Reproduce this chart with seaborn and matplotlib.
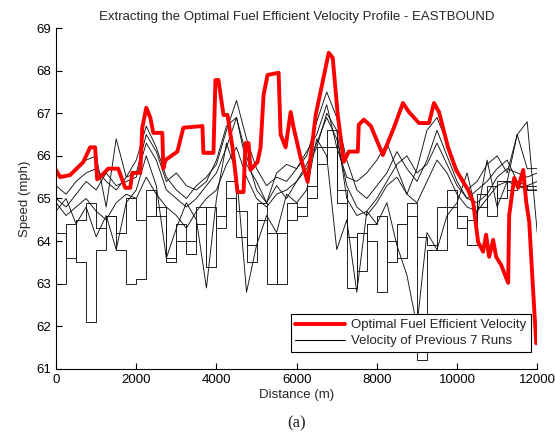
import numpy as np
import pandas as pd
import matplotlib
matplotlib.use("Agg")
import matplotlib.pyplot as plt
import seaborn as sns
from matplotlib.lines import Line2D

# Optimal profile
opt_distance = [0, 100, 350, 675, 850, 975, 1025, 1100, 1300, 1550, 1725, 1850, 1900, 2100,
                2150, 2250, 2350, 2425, 2650, 2675, 2725, 3025, 3175, 3650, 3675, 3925, 3975,
                4050, 4175, 4275, 4400, 4525, 4675, 4725, 4800, 4850, 5025, 5100, 5175, 5275,
                5550, 5600, 5725, 5850, 5925, 6100, 6275, 6475, 6800, 6900, 7025, 7175, 7300,
                7525, 7550, 7675, 7850, 8150, 8425, 8650, 8800, 9050, 9300, 9425, 9550, 9775,
                9975, 10275, 10400, 10525, 10650, 10725, 10800, 10900, 10975, 11100, 11275,
                11300, 11425, 11525, 11650, 11725, 11800, 11900, 11975]
opt_speed = [65.67, 65.5, 65.55, 65.85, 66.2, 66.2, 65.45, 65.5, 65.7, 65.7, 65.25, 65.25, 65.6, 65.6,
             66.66, 67.13, 66.9, 66.54, 66.54, 65.7, 65.9, 66.1, 66.66, 66.7, 66.07, 66.07, 67.78,
             67.78, 66.96, 66.96, 66.2, 65.15, 65.15, 66.3, 66.3, 65.67, 65.86, 66.2, 67.43, 67.9,
             67.95, 66.5, 66.2, 67.03, 66.66, 65.95, 65.39, 66.96, 68.42, 68.3, 66.96, 65.86, 66.1,
             66.1, 66.73, 66.85, 66.7, 66.02, 66.66, 67.24, 67.03, 66.77, 66.77, 67.24, 67.03, 66.2,
             65.67, 65.2, 64.92, 63.98, 63.75, 64.15, 63.63, 64.03, 63.63, 63.44, 63.02,
             64.6, 65.48, 65.25, 65.67, 64.92, 64.45, 62.8, 61.6]

# Previous runs, sampled every 250 m
run_distance = list(range(0, 12001, 250))
run1 = [65.3, 65.1, 65.4, 65.6, 65.7, 65.4, 65.2, 65.5,
        65.9, 66.7, 66.2, 65.5, 65.2, 65.0, 65.3, 65.5,
        65.8, 66.6, 67.3, 66.4, 65.7, 65.3, 65.5, 65.4,
        65.7, 66.0, 66.8, 67.5, 66.9, 65.9, 65.2, 65.0,
        65.3, 65.6, 66.1, 65.7, 65.4, 65.9, 66.6, 66.0,
        65.4, 65.0, 64.9, 65.1, 65.5, 65.7, 65.6, 65.5,
        65.6]
run2 = [63.0, 64.4, 63.5, 62.1, 63.8, 64.6, 64.2, 65.0,
        64.5, 65.2, 64.6, 63.6, 64.4, 64.0, 64.8, 63.4,
        64.6, 65.4, 64.7, 63.9, 64.9, 64.2, 63.0, 64.5,
        64.8, 65.3, 66.2, 66.6, 65.2, 62.9, 64.2, 64.0,
        62.8, 64.0, 63.6, 64.6, 61.2, 63.8, 64.8, 65.2,
        64.6, 63.9, 64.8, 65.3, 65.0, 65.4, 65.3, 65.2,
        65.3]
run3 = [65.6, 65.5, 65.7, 65.9, 66.0, 64.8, 66.4, 65.5,
        65.6, 66.5, 66.1, 65.4, 65.6, 65.3, 65.2, 65.4,
        65.9, 66.7, 66.9, 65.8, 65.4, 64.9, 65.6, 65.8,
        65.7, 66.1, 66.5, 67.2, 66.2, 65.5, 65.4, 65.6,
        65.9, 66.3, 65.7, 65.1, 65.7, 66.6, 66.9, 66.3,
        65.7, 65.2, 65.4, 65.8, 66.0, 65.6, 66.5, 65.7,
        65.7]
run4 = [64.7, 65.0, 64.4, 64.8, 64.1, 64.6, 63.8, 64.9,
        65.2, 66.0, 65.3, 63.6, 64.3, 64.9, 64.5, 62.9,
        65.0, 66.3, 65.6, 62.8, 63.9, 64.6, 64.2, 65.1,
        64.9, 65.2, 66.4, 66.0, 63.8, 64.5, 62.8, 64.7,
        64.4, 64.9, 63.9, 63.2, 62.0, 64.2, 63.8, 64.6,
        64.9, 65.6, 64.6, 65.9, 64.8, 65.4, 66.5, 66.8,
        64.2]
run5 = [64.9, 64.6, 64.8, 65.0, 64.7, 64.5, 64.9, 65.1,
        65.0, 65.5, 65.1, 64.8, 64.6, 64.3, 64.7, 65.0,
        65.2, 65.8, 66.2, 65.5, 65.0, 64.8, 65.1, 65.2,
        65.4, 65.8, 66.3, 66.9, 66.4, 65.3, 64.8, 64.6,
        64.9, 65.3, 65.5, 65.1, 64.9, 65.4, 65.9, 65.6,
        65.1, 64.8, 64.7, 65.0, 65.3, 65.4, 65.3, 65.2,
        65.2]
run6 = [64.2, 63.6, 64.5, 64.9, 64.3, 64.6, 63.8, 63.0,
        63.1, 64.6, 64.8, 63.5, 64.0, 63.7, 64.4, 64.8,
        64.3, 65.0, 64.1, 63.5, 64.5, 63.0, 64.2, 64.9,
        64.6, 65.0, 65.8, 66.2, 64.9, 64.1, 63.3, 64.4,
        64.6, 63.5, 64.4, 64.9, 64.1, 63.9, 63.8, 64.8,
        64.3, 64.5, 65.1, 64.6, 65.4, 65.2, 65.3, 65.3,
        65.3]
run7 = [65.0, 64.8, 65.1, 65.4, 65.2, 65.6, 65.3, 65.4,
        65.5, 66.3, 65.9, 65.2, 65.0, 64.8, 65.0, 65.3,
        65.6, 66.2, 66.9, 66.0, 65.2, 64.9, 65.3, 65.0,
        65.4, 65.7, 66.2, 67.0, 66.6, 65.0, 64.6, 64.7,
        65.0, 65.4, 65.8, 66.0, 65.6, 65.8, 66.3, 65.8,
        65.3, 65.0, 65.2, 65.4, 65.7, 65.9, 65.4, 65.3,
        65.4]
runs = [run1, run2, run3, run4, run5, run6, run7]
stepped = [False, True, False, False, False, True, False]

sns.set_style("ticks")
plt.rcParams['font.family'] = ['Liberation Sans', 'DejaVu Sans']

fig = plt.figure(figsize=(5.55, 4.45), dpi=100)
ax = fig.add_axes([0.101, 0.171, 0.867, 0.766])

for r, st in zip(runs, stepped):
    sns.lineplot(x=run_distance, y=r, ax=ax, color='#111111', lw=0.65,
                 drawstyle='steps-post' if st else 'default')

sns.lineplot(x=opt_distance, y=opt_speed, ax=ax, color='#ff0000', lw=2.8, sort=False)

ax.set_xlim(0, 12000)
ax.set_ylim(61, 69)
ax.set_xticks(range(0, 12001, 2000))
ax.set_yticks(range(61, 70))
ax.tick_params(direction='in', length=4, width=0.8, labelsize=9.5, colors='black')
for s in ['top', 'right']:
    ax.spines[s].set_visible(False)
for s in ['left', 'bottom']:
    ax.spines[s].set_color('black')
    ax.spines[s].set_linewidth(0.8)

ax.set_title("Extracting the Optimal Fuel Efficient Velocity Profile - EASTBOUND", fontsize=9.5, pad=6)
ax.set_xlabel("Distance (m)", fontsize=9.5, labelpad=2)
ax.set_ylabel("Speed (mph)", fontsize=9.5, labelpad=4)

handles = [Line2D([], [], color='#ff0000', lw=2.8), Line2D([], [], color='black', lw=0.8)]
leg = ax.legend(handles, ["Optimal Fuel Efficient Velocity", "Velocity of Previous 7 Runs"],
                loc='lower right', bbox_to_anchor=(1.0, 0.03), fontsize=9.5, fancybox=False,
                framealpha=1, edgecolor='black', handlelength=3.8, borderpad=0.35,
                labelspacing=0.3, handletextpad=0.4)
leg.get_frame().set_linewidth(0.8)

fig.text(0.535, 0.04, "(a)", family='Liberation Serif', fontsize=12, ha='center')

fig.savefig("out.png", dpi=100)
